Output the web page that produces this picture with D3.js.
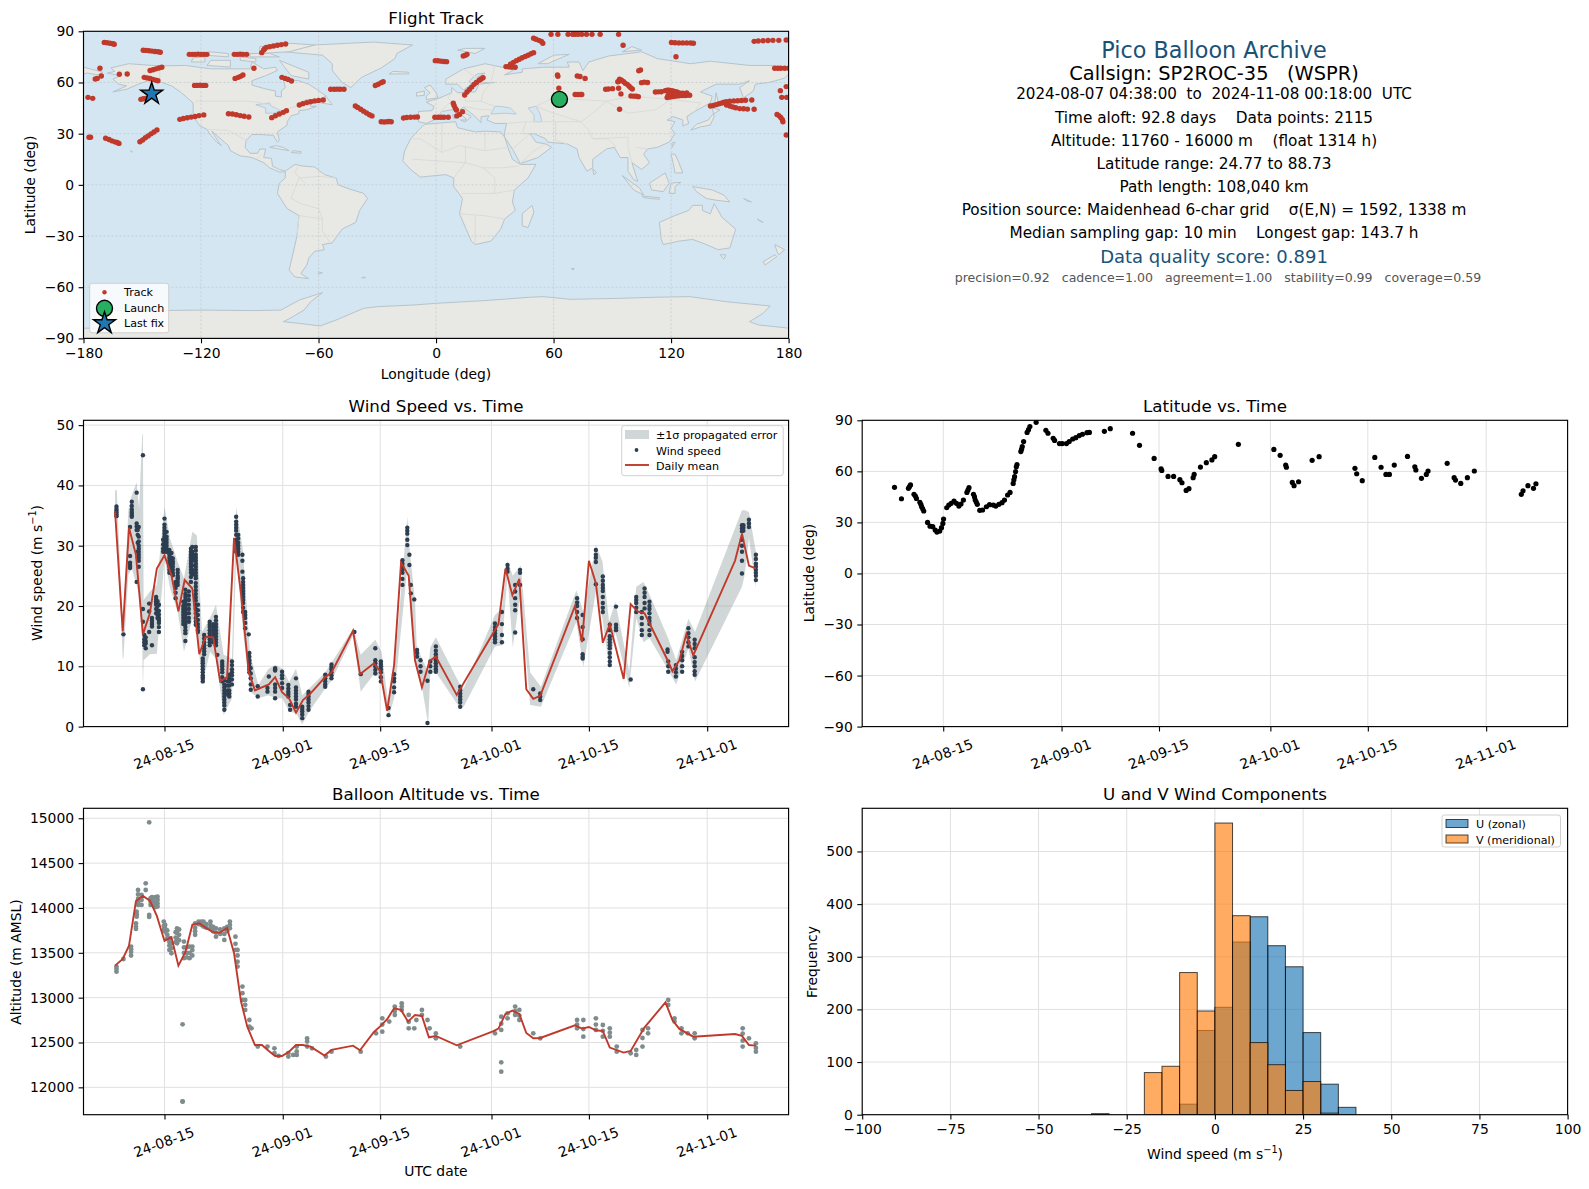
<!DOCTYPE html>
<html><head><meta charset="utf-8">
<script src="https://cdnjs.cloudflare.com/ajax/libs/d3/7.8.5/d3.min.js"></script>
<style>html,body{margin:0;padding:0;background:#fff}svg{display:block}text{font-family:"DejaVu Sans",sans-serif;white-space:pre}</style>
</head><body><svg id="c" width="1589" height="1189"></svg>
<script>
// ---------- data: days are counted from 2024-08-01 00:00 UTC ----------
const dateTicks=["2024-08-15","2024-09-01","2024-09-15","2024-10-01","2024-10-15","2024-11-01"];
const infoLines=[
 ["Pico Balloon Archive",22.3,"#1a5276",58,1214],
 ["Callsign: SP2ROC-35   (WSPR)",19.4,"#000",79.5,1214],
 ["2024-08-07 04:38:00  to  2024-11-08 00:18:00  UTC",15.15,"#000",99,1214],
 ["Time aloft: 92.8 days    Data points: 2115",15.3,"#000",122.5,1214],
 ["Altitude: 11760 - 16000 m    (float 1314 h)",15.3,"#000",145.5,1214],
 ["Latitude range: 24.77 to 88.73",15.3,"#000",168.5,1214],
 ["Path length: 108,040 km",15.3,"#000",191.5,1214],
 ["Position source: Maidenhead 6-char grid    σ(E,N) = 1592, 1338 m",15.3,"#000",214.5,1214],
 ["Median sampling gap: 10 min    Longest gap: 143.7 h",15.3,"#000",237.5,1214],
 ["Data quality score: 0.891",18,"#1a5276",263,1214],
 ["precision=0.92   cadence=1.00   agreement=1.00   stability=0.99   coverage=0.59",12.55,"#555",282,1218]
];
const launchPoint=[63,50.1], lastFix=[-145.2,53.4];
const trackPoints=[[-169.4,83.5],[-168,83.3],[-166.5,83],[-165,82.7],[-164.3,82.4],
[-149.5,78.9],[-148,78.8],[-146.5,78.6],[-145,78.4],[-143.5,78.2],[-142,78],[-140.8,77.7],
[-126,76.5],[-124.5,76.5],[-123,76.5],[-121.5,76.6],[-120,76.5],[-118.5,76.5],[-117,76.5],
[-103,76.5],[-101.5,76.5],[-100,76.6],[-98.5,76.5],[-96.7,76.5],
[-89,77.5],[-88,79],[-87.5,79.8],[-86.7,80.6],[-85,81],[-83,81.4],[-81,81.8],[-79,82.2],[-76.8,82.6],
[-146,67],[-144.5,67.5],[-143,68],[-141.5,68.5],[-140,68.9],
[-149,63],[-147.5,62.7],[-146,62.3],[-144.5,61.8],[-143,61.3],[-142,61],
[-171.6,68.3],[-174,62],[-173,62.4],[-170.9,63.8],[-161.7,64.8],[-157.7,65],[-177.7,51.3],[-175.3,50.7],
[-150.7,50.1],[-149.5,50.5],[-148.3,50.7],
[-123.3,58.3],[-122,58.3],[-120.5,58.4],[-119,58.3],[-117.6,58.3],
[-102.6,62.4],[-101,63],[-99.8,63.6],[-98.6,64.4],[-93,68.3],
[-78.7,63],[-77,62.4],[-75.5,61.8],[-73.8,60.9],
[-130.8,38.4],[-129,38.9],[-127,39.3],[-125,39.7],[-123,40.1],[-121,40.6],[-118.6,41],
[-106,41.7],[-104,41.5],[-102,41.1],[-100,40.6],[-98,40.2],[-95.6,39.8],
[-83.9,39.4],[-82,40.5],[-80,41.5],[-78,42.5],[-76.4,43.5],
[-69.8,46.8],[-68,47.6],[-66,48.2],[-64,48.7],[-62,49.2],[-60,49.5],[-57.6,49.7],
[-53.8,56],[-52,56],[-50.5,56.1],[-49,56],[-47,56],
[-31,58.2],[-29.5,59],[-28,59.9],[-27,60.5],
[-41.2,46.2],[-40,45.4],[-38.5,44.3],[-37,43.2],[-35.5,42.1],[-34,41.1],[-32.7,40.4],
[-28,37],[-26.5,36.8],[-25,37],[-24,37.1],[-22.9,37],
[-16.6,39.2],[-15,39.5],[-13,39.6],[-11,39.7],[-9.5,39.8],
[-0.6,39.6],[1,39.6],[2.5,39.6],[4,39.6],[6.2,39.6],
[10.6,40.4],[12,41.3],[13.5,42.9],[8.8,47.8],[9.2,46.5],[9.8,45],[10.4,43.9],
[14.6,52.7],[15.8,54.4],[17,55.9],[18.2,57.3],[19.4,58.9],[20.6,60],[22,61.3],[23,62],[24,62.8],
[-0.4,72.8],[1,72.7],[2.5,72.5],[4,72.3],[5.4,72.2],[13.9,75.5],[15,76],[15.8,76.5],
[35.7,69.3],[37,69.2],[38.5,69],[40.4,68.9],
[38,70.7],[39.5,71.8],[41,72.8],[42.5,73.6],[44,74.5],[45.5,75.3],[47,76],[48.5,76.8],[49.8,77.5],
[49.8,85.9],[51,85.3],[52.5,84.7],[53.8,84],[54.5,83],
[62,64.4],[62.2,63.6],[72.1,63.8],[73.5,63.5],[76.1,62.4],[62.7,56.6],[71,53],[72.2,53],[73.3,53],[74.4,53],
[58.7,88.2],[62.2,88.2],[67.4,88.2],[69.7,88.2],[71,88.2],[72.5,88.2],[74.4,88.2],[76.8,88.2],[79.6,88.2],[83.8,88.2],[93.2,88.2],
[95.5,81.8],[122.5,75.1],
[120.2,83.4],[122,83.3],[124,83.2],[126,83.2],[128,83.2],[130,83.1],[131.4,83],
[162.4,84.1],[164.5,84.3],[167,84.5],[169.5,84.6],[172,84.7],[175,84.7],[178.8,84.9],
[172.9,68.3],[174.5,68.3],[176,68.3],[178,68.3],[180,68.3],
[104.4,67.3],[103.5,66.9],
[93.7,61.9],[94.7,61.4],[95.8,60.4],[96.6,59.5],[97.6,58.9],[98.5,57.9],[99.3,57],[100.2,56.2],[93.4,60.7],[92.8,60.4],
[104.9,59.9],[106.3,60.2],[108,60],[86.6,56],[88,56.2],[90.1,56.4],[93.2,56.6],[94.4,53.3],[93.7,44.3],
[99.5,52.1],[101,52],[102.2,52],[103.3,51.7],
[112,54.4],[113.5,54.5],[115,54.6],[117,55.2],[118,55.5],[119,55.5],[120,55.2],[121,55],[122,54.6],[123,54.4],[124,53.9],[125,53.5],[126.5,53],[128,52.5],[129.5,52.5],
[118,51.2],[119.5,51.5],[121,51.8],[122.5,52],[124,52.2],[125.5,52.3],[127,52.3],[118.5,52.5],[120,53],[122,53.3],[124,53.5],[126,53.7],[128,53.8],
[140.1,46.2],[141.5,46.5],[143,47],[144.5,47.5],[146,48],[147,48.5],[148.3,48.8],[150,49],[152,49.2],[154,49.3],[156,49.4],[158,49.6],[161.2,49.7],
[148.3,46.8],[150,46.2],[151.5,45.7],[153,45.2],[155,44.7],[157,44.6],[159,44.4],[162.4,44.3],
[178.8,29.2],[174.1,41.3],[175,40.6],[176,39.5],[176.8,38.2],[177.1,37],[175.8,55.2],[176.5,51.3],[178.8,57.6],[179,51.3],
[-177.2,27.9],[-176.4,27.9],
[-168.7,27.3],[-167,26.6],[-165.5,25.8],[-164,25.2],[-162.8,24.8],[-161.9,24.3],
[-151.2,25.3],[-149.8,26.3],[-148.4,27.6],[-147,28.7],[-145.5,29.9],[-144,31],[-142.5,32.2]];

const landPolygons=[
[[-168,65.5],[-164,66.5],[-166,68.5],[-157,71],[-141,69.7],[-128,70],[-115,68],[-108,68],[-95,68],[-94,72],[-88,68],[-82,69],[-81,67],[-87,64],[-94,61],[-94,58.5],[-88,56.5],[-82,55],[-82,52],[-79,51.5],[-79,55],[-77,57],[-78,62],[-70,61],[-65,59],[-61,56],[-56,52],[-60,50],[-66,50],[-71,47],[-65,48.5],[-64,46],[-61,46],[-66,44],[-70,43.5],[-70,41.7],[-74,40.5],[-76,37],[-76,35],[-81,31],[-80,26],[-81,25],[-83,29],[-90,29.5],[-94,29.5],[-97,26],[-97.5,22],[-95,18.5],[-91,18.5],[-90,21],[-87,21],[-88,16],[-84,15.5],[-83.5,11],[-80,9],[-77,8],[-78,7.5],[-80,7.5],[-85,10],[-88,13],[-94,16],[-100,17],[-105,20],[-106,23],[-112,29],[-114.5,31.5],[-111,25],[-109.5,23],[-112,25],[-115,29],[-117,32.5],[-120.5,34.5],[-124,40],[-124,48],[-130,54],[-135,58],[-140,60],[-147,61],[-152,59],[-158,56],[-165,54.5],[-158,58],[-162,59],[-165,62],[-161,64]],
[[-77,8],[-72,12],[-68,11],[-62,10.5],[-57,6],[-51,4],[-50,0],[-44,-2.5],[-37,-5],[-35,-8],[-39,-15],[-41,-22],[-48,-26],[-53,-34],[-58,-35],[-57,-38],[-62,-39],[-65,-43],[-66,-47],[-69,-52],[-65,-55],[-72,-54],[-75,-50],[-73,-40],[-71,-30],[-70,-18],[-76,-14],[-81,-5],[-80,1],[-77,4]],
[[-77,78],[-62,82],[-32,83.7],[-12,82],[-20,77],[-21,74],[-28,68.5],[-38,63],[-43.5,57],[-48,60],[-53,67],[-53,71],[-58,76],[-68,77]],
[[-6,35.5],[10,37],[11,33.5],[20,31],[25,31.5],[33,31],[35,28],[37,21],[39,15],[43,12],[51,12],[47,4],[40,-3],[39,-10],[40.5,-15],[35,-20],[33,-26],[28,-33],[20,-35],[18,-33],[12,-17],[13.5,-8],[9,-1],[9,4],[5,6],[-4,5],[-8,4.5],[-13,9],[-17,14],[-16,20],[-13,27],[-9,32]],
[[-9,37],[-9,43],[-2,43.5],[-1,46],[-5,48.5],[2,51],[8,54],[8,57],[11,54],[20,54.5],[22,59],[30,60],[23,60],[21,63],[25,65.5],[21,65],[17,61],[18,59],[14,55.5],[11,59],[5,59],[5,62],[14,68],[25,71],[40,67.5],[35,64.5],[44,66],[44,68],[55,69],[68,69],[67,72],[73,72],[75,67],[78,72],[88,75.5],[105,78],[113,74],[130,71],[140,72.5],[160,70],[170,70],[180,69],[180,65],[178,62.5],[170,60],[163,59],[162,55],[157,51],[155,57],[160,61],[155,59],[143,59],[135,54.5],[141,52],[140,48],[132,43],[128,40],[129,36],[126,34.5],[126,38],[121,40],[118,38],[122,37],[120,33],[122,30],[119,25],[113,22],[108,21],[106,18],[109,13],[105,9],[100,13],[103,2],[101,3],[98,8],[98,16],[94,16],[91,22],[87,21],[80,15],[80,10],[77,8],[73,16],[72,21],[67,24],[57,25],[56,27],[50,30],[48,30],[51,25],[56,24],[59,22],[52,16],[43,12.5],[39,21],[35,28],[35,31],[36,36],[30,36],[26,38],[27,40.5],[23,40],[23,36.5],[19,41],[14,45.5],[12,44],[18,40],[16,38],[12,42],[8,44],[3,43],[-1,38],[-5,36]],
[[-180,69],[-175,67.5],[-170,66],[-173,64.5],[-178,65.5],[-180,65]],
[[-5,50],[1,51],[0,54],[-3,58.5],[-6,57],[-3,54],[-5,52]],[[-10,52],[-6,52.5],[-6,55],[-10,54]],[[-24,65],[-14,65],[-14,66],[-22,66.5]],
[[49,-12],[50,-16],[47,-25],[44,-24],[44,-17]],
[[114,-22],[122,-18],[129,-15],[131,-12],[136,-12],[136,-15],[140,-17],[142,-11],[146,-19],[153,-26],[150,-37],[144,-38],[138,-35],[131,-32],[124,-33],[116,-35],[115,-32]],
[[173,-35],[178,-38],[175,-41],[174,-39]],[[173,-41],[174,-42],[168,-47],[167,-45]],[[145,-41],[148,-41],[147,-43.5]],
[[131,-1],[141,-3],[147,-6],[150,-10],[143,-9],[138,-8],[133,-4]],[[109,1],[117,7],[119,1],[116,-4],[110,-3]],[[95,5.5],[104,-2],[106,-6],[101,-3]],[[105,-6.5],[114,-7.5],[114,-8.5],[106,-7.5]],[[119,-5],[120,1],[125,1.5],[122,-1],[122,-5]],[[120,18],[122,18],[124,13],[126,7],[122,7],[121,13]],
[[130,32],[135,34],[140,35],[142,40],[141,45],[145,44],[141,41],[139,38],[133,35.5]],[[80,9.5],[82,7],[80.5,6]],[[120.5,22],[122,25],[120.5,24.5]],
[[-85,22],[-75,20],[-78,22],[-82,23]],[[-74,19],[-69,18.5],[-69,19.5],[-73,20]],
[[-80,73],[-65,66],[-65,62],[-74,64],[-78,70]],[[-117,70],[-105,69],[-105,73],[-115,73]],[[-90,77],[-75,78],[-62,82],[-75,83],[-90,81]],[[-125,72],[-118,72],[-118,75],[-124,74.5]],[[-95,75],[-80,75],[-85,77],[-95,77]],[[-100,73],[-92,72],[-92,74],[-100,75]],[[-118,76],[-106,75],[-106,77],[-116,78]],
[[11,79],[20,77],[25,80],[15,80]],[[52,71],[57,71],[68,76.5],[60,76]],[[142,46],[143,54],[144,49]],[[95,78],[105,79],[100,81]],[[-59,48],[-53,47],[-56,51.5]],
[[9,39],[9.7,39],[9.5,41],[8.4,41]],[[12.5,38],[15.5,38],[15,36.8]],[[-60,-51],[-58,-51.5],[-60,-52.3]],[[165,-21],[167,-22],[164,-20]],[[157,-8],[161,-10],[159,-9.5]],[[69,-49],[70.5,-49],[70,-50]],[[-156,20],[-155,19.5],[-155.5,19]],[[-37,-54],[-36,-54.5],[-38,-54.5]],
[[-180,-84],[-172,-84],[-175,-73.7],[-144.8,-73.7],[-119,-73.4],[-93.2,-73.7],[-79.2,-73.4],[-69.8,-67.5],[-58,-63.2],[-64,-68.5],[-67.4,-73.4],[-74.5,-78.2],[-78,-80.2],[-69.8,-81.2],[-59.2,-82.7],[-51,-79.2],[-37,-72.4],[-30,-71.4],[-11.2,-70.4],[0.6,-69.4],[24,-67.9],[47.5,-65.9],[54.5,-65.5],[68.6,-67.1],[94.4,-66.5],[110.8,-65.9],[129.5,-65.5],[148.3,-68.5],[170.6,-71],[167,-75.3],[160,-80.2],[164.7,-82.1],[180,-84],[180,-90],[-180,-90]]
];
const inlandWater=[[[28,41.5],[35,42],[41,41.5],[38,45],[33,46],[30,46]],[[50,37],[54,37],[53,42],[51,46],[47,45],[50,41]],[[-92,47],[-85,48],[-84,46],[-80,44],[-79,43.5],[-83,42],[-87,42],[-87,45]]];
const borderLines=[
[[-123,49],[-95,49],[-89,48],[-83,46],[-79,43],[-75,45],[-67,47]],[[-141,60],[-141,69.7]],[[-117,32.5],[-106,32],[-97,26]],[[-92,15],[-89,18]],
[[-70,-18],[-58,-20],[-58,-27],[-54,-34]],[[-72,-2],[-70,4],[-60,5],[-51,4]],[[-72,-2],[-74,-8],[-69,-11],[-60,-14],[-58,-20]],[[-71,-30],[-70,-18]],[[-70,12],[-72,7],[-67,1]],
[[-13,27],[-8,27],[3,19],[12,23],[25,20],[25,31]],[[25,20],[37,22]],[[-12,15],[15,13],[24,10],[34,10],[42,11]],[[9,4],[15,13]],[[15,13],[15,23]],[[13,-5],[30,-5],[30,4],[24,10]],[[30,-5],[40,-3]],[[12,-17],[24,-18],[35,-20]],[[20,-35],[20,-18]],[[3,19],[3,36]],
[[2,43],[8,49],[6,51],[8,54]],[[14,54],[15,49],[23,49],[24,54]],[[24,54],[28,60]],[[23,49],[30,46]],[[14,46],[23,44],[28,44]],
[[36,36],[46,37],[44,30],[48,30]],[[46,37],[61,37],[61,26]],[[61,37],[74,37],[78,32],[80,27],[88,27],[92,22]],[[61,26],[67,24]],[[51,46],[60,42],[74,37]],[[51,46],[60,51],[87,49],[80,42],[74,37]],[[87,49],[98,42],[112,44],[120,50],[135,48],[132,43]],[[87,49],[100,52],[120,50]],[[98,22],[100,13]],[[102,22],[108,21]],[[80,27],[98,28],[98,22]],[[28,60],[30,70]],[[14,68],[24,60]],[[43,12.5],[50,20],[56,24]],[[39,21],[48,30]]
];
// wind speed (m/s): [day, values...]
const windColumns=[[7.1,36.5,36.1,35.8,35.5,35.2,34.9],[8.1,15.3],[9.05,33.1,28.3,27.2,26.8,26.5,26.3],[9.3,37.3,36.6,36,35.6,35.3,35,34.8],[10,38.8,33.7,33.2,32.6,24],[10.15,32.6,31.8,30.5,29,28],[10.3,33.1,31.5,30.7,30,29.5,29,28.5,28,27.5,26.5],[10.9,45,19.5,17.4,6.2],[11.1,15.2,14.5,14,13.5],[11.3,14.8,14.2,13.8,13],[11.8,20.4,19.1,15.7],[12.2,18,17.6,17.2,16.9,16.6,13.5],[12.8,21.5,21.1,20.8,20.5,20.2,19.5,18.8],[13,20.8,20,19.3,18.6,18],[13.2,20.2,19.2,18.6,18,17.6,17.2,16.5,15.7],
[14,34.5,33.5,33,32.5,32,31.5,31,30.5,30,29.5,29],[13.8,31,30.2,29.5,29],[14.3,32.3,31.5,31,30.5,30,29.5,29],[14.7,29.3,28.8,28.5,28,27.5,27,26.5,26,25.5],[15,28.8,28,27.2,26.5,25.5],[15.2,27.9,27.4,27,26.5,26,25.5,25.1],[15.9,26,25.5,25,24.7,24.5,24,23.5],[15.6,24,23.5,23,22.2,21.3],[17,22.7,22,21.5,21,20.5,20,19.5,19,18.5,18,17.5,17,16.5,16,15.5,14.2],[16.7,20.7,20,19.5,19,18.5,18,17.5,17],[17.5,22.4,21.7,21,20.2,19.5,18.8,18,17.4],[17.8,29.5,29,28.5,28,27.5,27,26.5,26,25.5,24.8,24],[18,29.8,29,28.5,28,27.5,26.7,26,25.6,25.2],[18.5,29.8,29.2,28.5,28,27.5,27,26.5,26,25.5,25,24.6,23.8,23.2,22.6,22,21.4,20.9,20.2,19.5,18.8,18,17.4,16.9],[18.8,20.2,19.3,18.5,17.7,17,16.5,16,15.7],
[19.5,11.3,10.9,10.5,10,9.5,9,8.5,8.2,7.9,7.5],[19.7,15.2,14.6,14,13.5,13,12.5,12],[20.5,17.4,16.9,16.5,16,15.5,15,14.5,14,13.5],[21,17,16.5,16,15.5,15,14.5,14],[21.4,18.2,17.6,17,16.5,16,15.5,15,14.5,14,13.5],[21.6,11.9],[22.3,10.8,10.4,10,9.5,9,8.2,7.5],[22.6,7.7,7,6.5,6,5.5,5,4.5,4,3.5,2.8],[23.1,7.5,6.8,6,5.4],[23.3,8.6,8,7.5,6.8,6,5.5,5],[23.7,10.8,10.2,9.5,9,8.5,7.8,7],[24.3,34.8,34,33.5,33,32.5,31.8,31,30.5,30,29.5,29],[24.6,31.8,31.2,30.5,30,29.5,29,28.5],[25.2,28.5,27.5,25.7],[25.3,24.6,24,23.5,23,22.5,22,21.5,21,20.5,19.7,19],[25.6,19,18.5,18,17.2,16.3],[26.1,15.3],[26.2,12.2,11.6,11,10.5,10,9.5,9],[26.4,9.7,8.8,8,7,6.1],[27.4,6.7,5],[28.8,6.4,5.8],[29,8.3],[29.9,9.7,9.5,9.3,7,6.4,5.8,4.7],[30.9,9.1,8.5,8,7.2,6.4],[31.8,6.9,6.3,5.8,5.4,5],[32.05,3.6,2.8],[32.9,8,6.5,6,5.5,5,4.5,3.8,3.3],[33.8,3.3,2.9,2.5,2,1.4],[34.7,5.8,5.4,5,4.5,4,3.4,2.8],[37.1,8.6,8,7.5,7,6.6],[38,10.3,9.9,9.5,9,8.5,8],[41.3,15.7],[42.2,8.7],[44.3,13,11,10.5,10,9.4,8.8],[45.1,10.8,10.4,10,9.5,9,8.2,7.5],[46.2,3.1,1.9],[47,8.7,8,7.5,6.5,5.7],
[48.9,33,32.5,32,31,30.1],[49.2,28.5,26.8],[48.2,27.6,27,26.5,26,25.5,24.5,23.5],[49.4,23.5,22.1],[49.9,21.1],[50.3,12.7,12.2,11.6],[50.8,11,10,9.1],[51.8,7.6,0.6],[52.2,10.8,10,9.1],[53,13.3,12.6,12,11.5,11,10.5,10,9.5,9.1],[56.5,6.6,6,5.5,5,4.5,4,3.3],[61.5,17.1,16.5,16,15.5,15,14.5,14],[62.5,19,17,15.2,14],[63.3,26.8,26.2,25.7],[64.4,23.5,22.4,21.3,20.2,19.3,15.6],[65.1,26,25.5,23.5],[67,6.2],[68,5.5,5,4.4],[73.3,21.3,20.6,20,19,18],[74.1,18.5,16.5,14.5,12,11.6,11.3],[76,29.3,28.5,28,27.3,23.6],[77,24.9,24.2,23.5,23,22.5,21.5,20.5,19.7,19],[78,16.9,16,15,14.5,14,13.5,13,12.2,11.5,10.8,10.2],[78.9,19.9,16.9,16.4,16],[81,7.8],[81.8,21.5,21,20.5,19.7,19],[82.6,19,18,17,16,15.2],[83,22.9,22.2,21.5,20.5,19.6],[83.7,20.7,20,19.5,18.8,18,17.5,17,16,15.2],[86.3,12.8,12.4],[86.4,10.8,10,9.1],[87.5,10.2,9.6,9,8.3],[88.4,12.4,11.7,11,10,9.1],[89.3,16.3,15.5,14.8,14,13.3],[90.2,14.4,13.7,13,11.5,10.7,10,9.2,8.6],[97,33.4,32.9,32.4,31,30,29,27.5,25.4],[97.2,33.4,33,32.5],[98,34.3,33.7,33.1],[99,28.5,27.8,27,26.5,26,25.5,25,24.3]];
const bandDays=[6.9,7.15,8,8.1,8.8,9.3,10,10.35,10.8,10.9,11,11.9,12.9,14,14.8,15.9,16.8,18,18.65,19.4,20.55,21.4,22.5,23.7,24.3,25.3,26.3,27.5,28.95,30,30.95,31.9,32.9,33.8,34.8,37.1,38,41.15,42.2,44.3,45.2,46.2,47,48.9,49.3,50,50.25,51,51.9,52.2,53,56.5,57,61.5,62.5,63.3,64.05,65.2,66.55,68.1,73.2,74.2,76,76.95,77.9,78.8,80.8,81.8,82.85,83.7,86.3,87.55,89.3,90.25,97,97.4,98,99];
const bandHigh=[39.2,39.2,15.7,16.8,35.9,38.4,40.5,36.2,48.5,48.5,21,22.4,23.5,36.5,31.2,27.3,24.6,32.3,31.7,15.7,18,20.2,11.9,11.3,36.5,29,12,6.9,9.6,10.2,9.6,7.4,9.6,5.2,6.3,9,10.6,16.3,11.9,14.4,12.4,3.6,9,34.8,28.5,21,13.5,11.3,9,13.1,14.8,6.9,6.3,18.5,19.6,27.6,25,26.7,9,6.6,22.6,19,30.1,27.4,17.4,20.7,9.1,23.2,24,21.9,14.9,11,17.9,15.7,35.9,35.9,35.6,29];
const bandLow=[34.8,34.5,11.3,11.3,25.2,26.2,23.5,21.8,14,5.8,11,12,12.1,27.9,23,19,12.4,17.9,16.3,7,12.4,11.3,1.9,4.7,28.4,15.7,5.8,4.7,5.2,4.7,4.7,2.5,2.2,0.4,2.5,6.3,7.6,15.2,5.8,9,7.4,1.5,4.7,26.3,21.1,11.9,9.6,6.6,0.4,8.6,9,3,3.3,13.3,13.5,25.2,13.1,22.4,3.6,3.3,17.4,9.9,22.4,17.9,9.7,15.7,6.4,18,14,14.7,9.6,7,13,7.5,23.2,25.2,31.3,23];
const windMeanDays=[6.9,8,8.9,9.9,10.9,11.9,12.9,14,15,16,16.9,18,19,19.9,21,22,23,24,25,26.1,27,28,29,29.9,30.9,31.9,32.9,33.9,35,37,38,41.1,42.1,44.1,45,46,47,48,49.1,50,51,52.1,53,56,62,63,64,65,66,67,68,73,74,75,76,77,78,80,81,82,83,86.4,87,88,89,90,96,97,98,99];
const windMeanValues=[35.7,15.8,33,28.5,15.3,18.8,26.2,28.4,25.1,19.1,24.3,22.9,12,14.9,14.8,7.5,8.2,31.3,22,9.1,6,6.5,7,8.2,5.7,4.7,2.3,4.4,5.5,8.1,8.95,15.9,8.7,10.5,9.2,2.6,10.2,27.2,25,11,6.5,10.9,11.6,5.25,17,26.2,21.8,24.5,6.2,4.6,5.1,20,14,27.5,23.8,13.9,17,7.9,20.3,19.1,18.8,10.8,9.2,11,15.3,11.8,27.5,32,26.7,26.2];
const latitudeDays=[7,8,9,9.15,9.3,9.8,10,10.15,10.65,10.8,10.9,11.05,11.2,11.75,12.1,12.5,12.85,13.1,13.5,13.75,13.95,14.05,14.5,14.8,15.15,15.55,15.9,16.25,16.55,16.9,17.4,17.55,17.7,18.35,18.5,18.6,18.75,18.9,19.25,19.65,20.2,20.65,21.2,21.55,22,22.45,22.8,23.25,23.6,24.05,24.15,24.25,24.4,24.5,24.6,25.15,25.25,25.35,25.55,26.05,26.25,26.45,27.35,28.75,29.05,29.8,30,30.7,31.1,31.7,32.1,32.6,33.05,33.55,34,34.65,35,37.15,38,41.2,42.2,44.3,45.3,45.4,46.3,47.1,48,48.3,48.9,49.3,49.9,50.05,50.95,51.8,52.6,53,56.4,61.5,62.4,63.2,63.3,64.15,64.4,65.05,67,68,73.15,73.4,74.2,76,76.9,77.6,78.1,78.8,80.7,81.75,81.9,82.7,83.4,83.65,86.4,87.4,87.6,88.35,89.3,90.3,97.05,97.3,98,98.8,99.15];
const latitudeValues=[50.6,43.9,50,51,52,46.5,45.5,44.1,41.8,40.5,39.2,38,36.7,30,27.8,27.5,25.5,24.3,24.9,26.9,29.4,32,38.6,40.2,41.2,42.5,41.2,39.6,40.8,43.1,47.6,49,50.4,46.5,45,43.1,42,40.6,37.1,37.3,39.2,40.4,40.2,39.6,40.6,41.6,43.1,46.1,47.6,52.9,55,56.9,59.8,62.7,64,71.6,73,74.5,77.5,82.9,84.5,86.3,88.8,84.1,82.4,79.4,78.2,76.3,76.3,76.3,77.5,79,79.8,81,81.8,82.7,82.9,83.5,85.1,82.4,75.3,67.6,61.4,60.5,57,57,55.1,53.3,48.8,49.8,56.3,58.2,62.5,65.1,66.7,68.6,75.9,72.9,69.4,63.7,62.4,53.5,51.6,53.9,66.5,68.6,61.8,58.6,54.5,68.2,62.4,58.2,58.2,63.7,68.8,62.7,60.8,55.9,58.2,60.2,64.7,56.3,54.9,52.9,56.3,60.2,46.5,48.6,51.6,50,52.7];
// altitude (m): [day, values...]
const altColumns=[[7.1,13346,13320,13290],[8.1,13431],[9.2,13569,13540,13510,13469],[9.9,13829,13790,13766],[10,13959,13930,13903],[10.2,14200,14150,14100,14060,14034],[10.7,14145,14090,14034],[11.3,14275,14200],[11.8,14955,13922,13900],[12,14108,14070,14034],[12.2,14120,14080,14040],[12.4,14108,14070,14034],[12.7,14120,14060,14010],[13,14126,14090,14050,14015],[13.9,13848,13800,13755],[14.1,13811,13770,13736],[14.4,13750,13700,13660],[14.7,13662,13620,13580,13532],[15,13606,13550,13495],[15.6,13730,13670,13620],[15.8,13773,13720,13660,13606],[16.1,13760,13700,13640],[16.6,12703,11844,11840],[16.8,13625,13560,13500,13440],[17.2,13560,13500,13450],[17.6,13569,13500,13440],[18,13569,13530,13470],[18.4,13829,13780,13740,13700],[18.9,13848,13820],[19.3,13848,13810],[19.6,13848,13792],[20,13820,13780],[20.6,13848,13810,13773],[21,13790,13740],[21.4,13773,13725,13680],[22,13760,13710],[22.6,13773,13710,13643],[23,13790,13740],[23.4,13848,13810,13773],[24.2,13680,13600,13532],[24.5,13532,13470,13400,13346],[25.2,13123,13050,12974],[25.6,12974,12920,12863],[26.2,12751,12677],[26.5,12658],[27.4,12454],[28.8,12454],[29.8,12435,12380],[30.4,12350],[31.8,12380,12343],[32.5,12361],[33,12454,12400,12361],[34.5,12547,12510,12454],[35.2,12435],[37.2,12343],[38,12398],[42.2,12398],[44.4,12602],[45.3,12770,12700,12621],[46.3,12733],[47.1,12900,12850,12807],[48.1,12937,12900,12863],[49.1,12807,12730,12658],[49.9,12658],[50.2,12751],[51,12863,12807],[51.8,12751],[52.1,12658],[53,12602,12547],[56.5,12454],[61.5,12602],[62.4,12788,12710,12640,12279,12175],[63.3,12825,12770],[64.4,12900,12850,12807],[65,12863,12800,12751],[67,12602],[68,12547],[73.3,12751,12700,12658],[74.2,12751,12650,12565],[76,12770,12700,12640],[77,12695,12630,12565],[78,12658,12610,12565],[79,12454,12398],[81,12380],[81.8,12417,12361],[82.7,12640,12550,12454],[83.5,12658,12602],[86.4,12974,12918],[87.3,12770,12733],[88.3,12658,12602],[89.2,12602],[90.2,12602,12547],[97.1,12658,12600,12520,12454],[98,12547],[99,12491,12440,12398]];
const altMeanDays=[6.9,8,8.9,9.9,10.9,11.9,12.9,14,15,16,17,18,19,19.9,21,22,23,24,25,25.9,27,28,29,29.9,30.9,31.9,32.9,33.9,35,37,38,41.1,42.1,44.1,45,46,47,48,49,50,51,52,53,56,61.2,62,63,64,65,66,67,68,73,74,75,76,77,78,80,81,83,86,87,88,90,96,97,98,99];
const altMeanValues=[13357,13431,13580,14078,14134,14082,13911,13632,13673,13357,13506,13811,13829,13781,13729,13725,13777,13495,12956,12677,12472,12472,12406,12350,12350,12398,12472,12472,12454,12354,12417,12465,12413,12617,12680,12759,12881,12863,12733,12807,12796,12558,12573,12469,12625,12655,12818,12855,12818,12606,12547,12550,12692,12655,12673,12636,12628,12443,12387,12406,12669,12948,12751,12651,12565,12595,12573,12472,12465];
const histStarts=[-35,-30,-25,-20,-15,-10,-5,0,5,10,15,20,25,30,35];
const uCounts=[2,0,0,0,0,20,160,204,328,376,321,281,156,58,14];
const vCounts=[0,0,0,80,92,270,197,554,378,137,95,46,63,3,0];

// ---------- drawing ----------
const svg=d3.select("#c");
const T=13.9, RED="#c0392b", GRID="#e0e0e0";
const dayDate=d=>new Date(Date.UTC(2024,7,1)+d*864e5);
const panels={map:[83.5,788.6,31.3,338.4],wind:[83.5,788.6,420.3,726.6],lat:[862.2,1567.6,420.3,726.6],alt:[83.5,788.6,808.3,1114.7],hist:[862.2,1567.6,808.3,1114.7]};
let cid=0;
function panel(p,xDom,yDom,xs){
 const [l,r,t,b]=p;
 const x=(xs||d3.scaleLinear()).domain(xDom).range([l,r]),y=d3.scaleLinear().domain(yDom).range([b,t]);
 const id="clip"+(cid++);
 svg.append("clipPath").attr("id",id).append("rect").attr("x",l).attr("y",t).attr("width",r-l).attr("height",b-t);
 const g=svg.append("g").attr("clip-path",`url(#${id})`);
 return {x,y,g,l,r,t,b};
}
function grid(P,xv,yv,style){
 const G=P.g.append("g").attr("stroke",style&&style.c||GRID).attr("stroke-width",style&&style.w||1).attr("stroke-dasharray",style&&style.d||null);
 G.selectAll(".v").data(xv).join("line").attr("x1",d=>P.x(d)).attr("x2",d=>P.x(d)).attr("y1",P.t).attr("y2",P.b);
 G.selectAll(".h").data(yv).join("line").attr("y1",d=>P.y(d)).attr("y2",d=>P.y(d)).attr("x1",P.l).attr("x2",P.r);
}
function axes(P,xv,yv,fx,fy,rot){
 svg.append("rect").attr("x",P.l).attr("y",P.t).attr("width",P.r-P.l).attr("height",P.b-P.t).attr("fill","none").attr("stroke","#000").attr("stroke-width",1.15);
 const ax=d3.axisBottom(P.x).tickValues(xv).tickFormat(fx).tickSize(4.9).tickPadding(4.5).tickSizeOuter(0);
 const gx=svg.append("g").attr("transform",`translate(0,${P.b})`).call(ax);
 const ay=d3.axisLeft(P.y).tickValues(yv).tickFormat(fy).tickSize(4.9).tickPadding(4.5).tickSizeOuter(0);
 const gy=svg.append("g").attr("transform",`translate(${P.l},0)`).call(ay);
 [gx,gy].forEach(a=>{a.select(".domain").remove();a.selectAll("line").attr("stroke","#000").attr("stroke-width",1.1);a.selectAll("text").attr("font-family","DejaVu Sans").attr("font-size",T).attr("fill","#000");});
 if(rot) gx.selectAll("text").attr("y",0).attr("dy","0.35em").attr("text-anchor","middle").attr("transform","translate(-1,27.5) rotate(-20)");
}
function label(txt,x,y,size,opt={}){
 const t=svg.append("text").attr("x",x).attr("y",y).attr("font-size",size).attr("fill",opt.fill||"#000").attr("text-anchor",opt.anchor||"middle");
 if(opt.rot) t.attr("transform",`rotate(-90 ${x} ${y})`);
 if(opt.sup){t.append("tspan").text(txt);t.append("tspan").text(opt.sup).attr("font-size",size*.7).attr("dy",-size*.4);t.append("tspan").text(")").attr("dy",size*.4);}
 else t.text(txt);
 return t;
}
const timeScale=()=>d3.scaleUtc();
const timeDom=[dayDate(2.36),dayDate(103.7)];
const tickDates=dateTicks.map(s=>new Date(s+"T00:00:00Z"));
const fmtDate=d3.utcFormat("%y-%m-%d");
const minus=d=>d3.format("d")(d).replace("-","\u2212");
const defs=svg.append("defs");
defs.append("filter").attr("id","soft").attr("x","-2%").attr("y","-2%").attr("width","104%").attr("height","104%").append("feGaussianBlur").attr("stdDeviation",.5);

// Flight track
{
 const P=panel(panels.map,[-180,180],[-90,90]);
 const lonT=d3.range(-180,181,60),latT=d3.range(-90,91,30);
 P.g.append("rect").attr("x",P.l).attr("y",P.t).attr("width",P.r-P.l).attr("height",P.b-P.t).attr("fill","#d4e6f1");
 const ln=d3.line().x(d=>P.x(d[0])).y(d=>P.y(d[1]));
 const m=P.g.append("g").attr("filter","url(#soft)");
 m.selectAll(".land").data(landPolygons).join("path").attr("d",d=>ln(d)+"Z").attr("fill","#e8e8e4").attr("stroke","#b6c3cb").attr("stroke-width",1);
 m.selectAll(".water").data(inlandWater).join("path").attr("d",d=>ln(d)+"Z").attr("fill","#d4e6f1").attr("stroke","#b6c3cb").attr("stroke-width",.8);
 m.selectAll(".border").data(borderLines).join("path").attr("d",ln).attr("fill","none").attr("stroke","#d9dad7").attr("stroke-width",.9);
 grid(P,lonT,latT,{c:"#c3cbcf",d:"2 2",w:.8});
 P.g.selectAll(".trk").data(trackPoints).join("circle").attr("cx",d=>P.x(d[0])).attr("cy",d=>P.y(d[1])).attr("r",2.7).attr("fill",RED);
 P.g.append("circle").attr("cx",P.x(launchPoint[0])).attr("cy",P.y(launchPoint[1])).attr("r",8).attr("fill","#27ae60").attr("stroke","#000").attr("stroke-width",1.4);
 const star=d3.symbol().type(d3.symbolStar).size(150);
 P.g.append("path").attr("d",star()).attr("transform",`translate(${P.x(lastFix[0])},${P.y(lastFix[1])})`).attr("fill","#1f77b4").attr("stroke","#000").attr("stroke-width",1.4);
 axes(P,lonT,latT,minus,minus);
 label("Flight Track",436,24,16.7);
 label("Longitude (deg)",436,379,T);
 label("Latitude (deg)",35,185,T,{rot:1});
 // legend
 svg.append("rect").attr("x",89.7).attr("y",283.3).attr("width",79).attr("height",49.5).attr("rx",2.5).attr("fill","#fff").attr("fill-opacity",.8).attr("stroke","#d0d0d0").attr("stroke-width",1);
 svg.append("circle").attr("cx",104.5).attr("cy",292.3).attr("r",2.2).attr("fill",RED);
 svg.append("circle").attr("cx",104.5).attr("cy",308.3).attr("r",8).attr("fill","#27ae60").attr("stroke","#000").attr("stroke-width",1.4);
 svg.append("path").attr("d",star()).attr("transform","translate(104.5,323.3)").attr("fill","#1f77b4").attr("stroke","#000").attr("stroke-width",1.4);
 [["Track",296],["Launch",312],["Last fix",327]].forEach(d=>label(d[0],124,d[1],11.1,{anchor:"start"}));
}

// Info panel
infoLines.forEach(d=>label(d[0],d[4],d[3],d[1],{fill:d[2]}));

// Wind speed
{
 const P=panel(panels.wind,timeDom,[0,50.8],timeScale());
 const yv=[0,10,20,30,40,50];
 grid(P,tickDates,yv);
 const band=bandDays.map((d,i)=>({d,h:bandHigh[i],l:bandLow[i]}));
 P.g.append("path").datum(band).attr("d",d3.area().x(d=>P.x(dayDate(d.d))).y0(d=>P.y(d.l)).y1(d=>P.y(d.h))).attr("fill","#7f8c8d").attr("fill-opacity",.36);
 const pts=windColumns.flatMap(c=>c.slice(1).map(v=>[c[0],v]));
 P.g.selectAll(".p").data(pts).join("circle").attr("cx",d=>P.x(dayDate(d[0]))).attr("cy",d=>P.y(d[1])).attr("r",2.2).attr("fill","#2c3e50");
 P.g.append("path").datum(windMeanDays.map((d,i)=>[d,windMeanValues[i]])).attr("d",d3.line().x(d=>P.x(dayDate(d[0]))).y(d=>P.y(d[1]))).attr("fill","none").attr("stroke",RED).attr("stroke-width",1.9);
 axes(P,tickDates,yv,fmtDate,minus,true);
 label("Wind Speed vs. Time",436,412,16.7);
 label("Wind speed (m s",42,573,T,{rot:1,sup:"\u22121"});
 svg.append("rect").attr("x",621.7).attr("y",425.7).attr("width",161.5).attr("height",50).attr("rx",2.5).attr("fill","#fff").attr("fill-opacity",.8).attr("stroke","#d0d0d0");
 svg.append("rect").attr("x",625).attr("y",430).attr("width",24).attr("height",9).attr("fill","#7f8c8d").attr("fill-opacity",.36);
 svg.append("circle").attr("cx",636.5).attr("cy",450).attr("r",1.9).attr("fill","#2c3e50");
 svg.append("line").attr("x1",625).attr("x2",649).attr("y1",465).attr("y2",465).attr("stroke",RED).attr("stroke-width",1.9);
 [["±1σ propagated error",439],["Wind speed",454.5],["Daily mean",470]].forEach(d=>label(d[0],656,d[1],11.1,{anchor:"start"}));
}

// Latitude
{
 const P=panel(panels.lat,timeDom,[-90,90],timeScale());
 const yv=d3.range(-90,91,30);
 grid(P,tickDates,yv);
 P.g.selectAll(".p").data(latitudeDays.map((d,i)=>[d,latitudeValues[i]])).join("circle").attr("cx",d=>P.x(dayDate(d[0]))).attr("cy",d=>P.y(d[1])).attr("r",2.6).attr("fill","#000");
 axes(P,tickDates,yv,fmtDate,minus,true);
 label("Latitude vs. Time",1215,412,16.7);
 label("Latitude (deg)",814,573,T,{rot:1});
}

// Altitude
{
 const P=panel(panels.alt,timeDom,[11695,15111],timeScale());
 const yv=d3.range(12000,15001,500);
 grid(P,tickDates,yv);
 const pts=altColumns.flatMap(c=>c.slice(1).map(v=>[c[0],v]));
 P.g.selectAll(".p").data(pts).join("circle").attr("cx",d=>P.x(dayDate(d[0]))).attr("cy",d=>P.y(d[1])).attr("r",2.4).attr("fill","#7f8c8d");
 P.g.append("path").datum(altMeanDays.map((d,i)=>[d,altMeanValues[i]])).attr("d",d3.line().x(d=>P.x(dayDate(d[0]))).y(d=>P.y(d[1]))).attr("fill","none").attr("stroke",RED).attr("stroke-width",1.9);
 axes(P,tickDates,yv,fmtDate,d3.format("d"),true);
 label("Balloon Altitude vs. Time",436,800,16.7);
 label("Altitude (m AMSL)",21,962,T,{rot:1});
 label("UTC date",436,1176,T);
}

// Histogram
{
 const P=panel(panels.hist,[-100,100],[0,582]);
 const xv=d3.range(-100,101,25),yv=d3.range(0,501,100);
 grid(P,xv,yv);
 const bars=(c,col)=>P.g.selectAll(".b"+col.slice(1)).data(histStarts.map((s,i)=>[s,c[i]]).filter(d=>d[1]>0)).join("rect")
  .attr("x",d=>P.x(d[0])).attr("width",d=>P.x(d[0]+5)-P.x(d[0])).attr("y",d=>P.y(d[1])).attr("height",d=>P.b-P.y(d[1]))
  .attr("fill",col).attr("fill-opacity",.65).attr("stroke","#000").attr("stroke-opacity",.7).attr("stroke-width",1);
 bars(uCounts,"#1f77b4");bars(vCounts,"#ff7f0e");
 axes(P,xv,yv,minus,d3.format("d"));
 label("U and V Wind Components",1215,800,16.7);
 label("Frequency",817,962,T,{rot:1});
 label("Wind speed (m s",1215,1159,T,{sup:"\u22121"});
 svg.append("rect").attr("x",1442).attr("y",815).attr("width",118.5).attr("height",32).attr("rx",2.5).attr("fill","#fff").attr("fill-opacity",.8).attr("stroke","#d0d0d0");
 [["#1f77b4","U (zonal)",819.5],["#ff7f0e","V (meridional)",835]].forEach(d=>{
  svg.append("rect").attr("x",1446).attr("y",d[2]).attr("width",22).attr("height",8).attr("fill",d[0]).attr("fill-opacity",.65).attr("stroke","#000").attr("stroke-opacity",.7);
  label(d[1],1476,d[2]+8.5,11.1,{anchor:"start"});
 });
}
</script></body></html>
